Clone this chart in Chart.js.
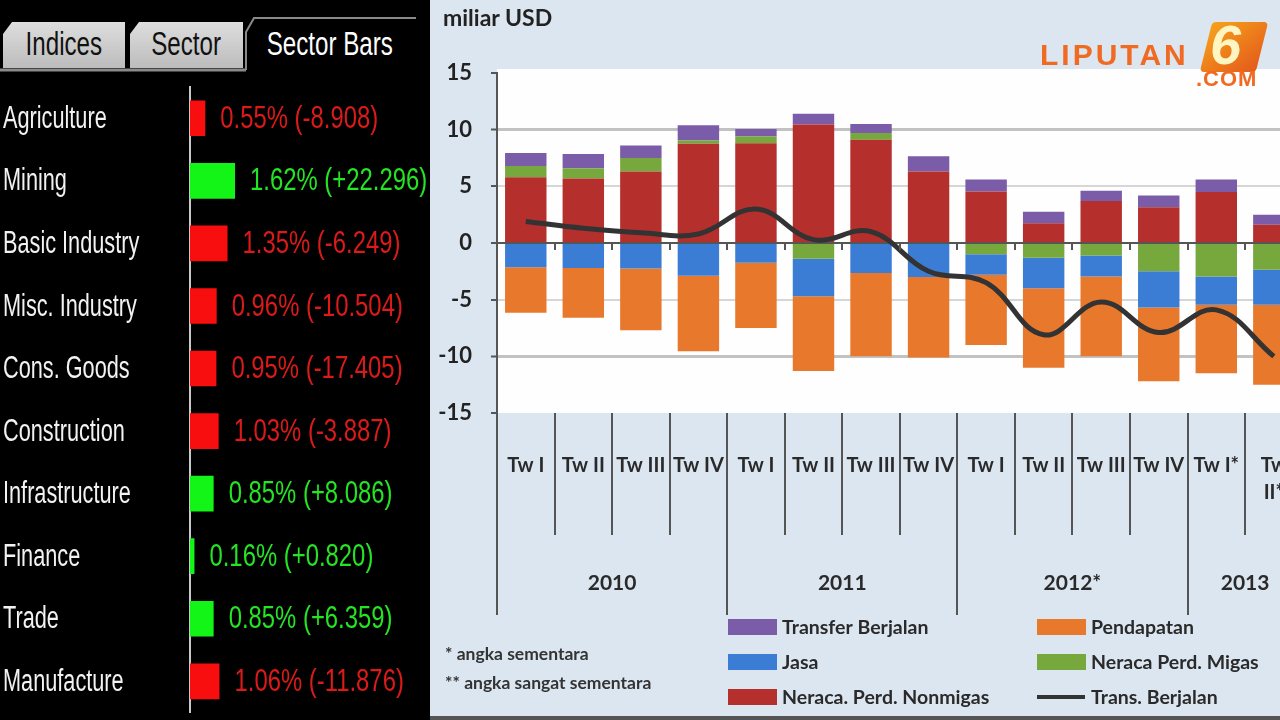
<!DOCTYPE html>
<html>
<head>
<meta charset="utf-8">
<script src="https://cdn.jsdelivr.net/npm/chart.js@4.4.1/dist/chart.umd.min.js"></script>
<style>
  html, body { margin: 0; padding: 0; width: 1280px; height: 720px; overflow: hidden; background: #000; }
  #left { position: absolute; left: 0; top: 0; width: 428px; height: 720px; background: #000; }
  #right { position: absolute; left: 430px; top: 0; width: 850px; height: 720px; background: #dce6f0; overflow: hidden; }
  #rightInner { position: absolute; left: 0; top: 0; width: 888px; height: 720px; }
  .tab, #tabActive { font-family: "Liberation Sans", Arial, sans-serif; font-size: 34px; }
  .tab { position: absolute; top: 22px; height: 46px; line-height: 43px; text-align: center; color: #111;
         background: linear-gradient(#dedede, #bcbcbc);
         clip-path: polygon(9px 0, 100% 0, 100% 100%, 0 100%, 0 12px); }
  #tabActive { position: absolute; left: 241px; top: 22px; width: 154px; height: 46px; line-height: 43px;
               text-align: center; color: #fff; }
  .sq { display: inline-block; transform: scaleX(0.71); white-space: nowrap; }
  #unit { position: absolute; left: 13px; top: 3px; font: bold 23px Lato, sans-serif; color: #222; }
  .note { position: absolute; left: 15px; font: bold 17.5px Lato, sans-serif; color: #333; }
  #logo { position: absolute; left: 610px; top: 18px; width: 240px; height: 75px; }
  #logo .lip { position: absolute; left: 0; top: 22px; font: bold 30px "Liberation Sans", Arial, sans-serif;
               letter-spacing: 3px; color: #f06a22; line-height: 30px; }
  #logo .box { position: absolute; left: 166px; top: 4px; width: 56px; height: 50px;
               background: linear-gradient(135deg, #f7a21b, #e35a1c); transform: skewX(-14deg); border-radius: 4px; }
  #logo .six { position: absolute; left: 170px; top: -1px; font: italic bold 56px "Liberation Sans", Arial, sans-serif;
               color: #fff5c0; line-height: 56px; }
  #logo .com { position: absolute; left: 156px; top: 50px; font: bold 22px "Liberation Sans", Arial, sans-serif;
               color: #f06a22; letter-spacing: 1px; line-height: 22px; }
  #bottomBar { position: absolute; left: 0; top: 716px; width: 850px; height: 4px; background: #555; }
</style>
</head>
<body>
<div id="left">
  <svg width="428" height="90" style="position:absolute;left:0;top:0">
    <line x1="0" y1="70" x2="246" y2="70" stroke="#8a8a8a" stroke-width="3"/>
    <polyline points="246,70 246,32 254,18 416,18" fill="none" stroke="#8a8a8a" stroke-width="2"/>
  </svg>
  <div class="tab" style="left:3px;width:122px"><span class="sq">Indices</span></div>
  <div class="tab" style="left:130px;width:113px"><span class="sq">Sector</span></div>
  <div id="tabActive"><span class="sq">Sector Bars</span></div>
  <canvas id="sectorChart" width="428" height="720" style="position:absolute;left:0;top:0"></canvas>
</div>
<div id="right">
  <div id="rightInner"><canvas id="bopChart" width="888" height="720"></canvas></div>
  <div id="unit">miliar USD</div>
  <div class="note" style="top:643px">* angka sementara</div>
  <div class="note" style="top:672px">** angka sangat sementara</div>
  <div id="logo">
    <div class="lip">LIPUTAN</div>
    <div class="box"></div>
    <div class="six">6</div>
    <div class="com">.COM</div>
  </div>
  <div id="bottomBar"></div>
</div>
<script>
// left panel: sector bars
const sectors = ['Agriculture', 'Mining', 'Basic Industry', 'Misc. Industry', 'Cons. Goods',
  'Construction', 'Infrastructure', 'Finance', 'Trade', 'Manufacture'];
const sectorPct = [0.55, 1.62, 1.35, 0.96, 0.95, 1.03, 0.85, 0.16, 0.85, 1.06];
const sectorChange = [-8.908, 22.296, -6.249, -10.504, -17.405, -3.887, 8.086, 0.820, 6.359, -11.876];

// right panel: current account components (miliar USD)
const quarterLabels = ['Tw I', 'Tw II', 'Tw III', 'Tw IV', 'Tw I', 'Tw II', 'Tw III', 'Tw IV',
  'Tw I', 'Tw II', 'Tw III', 'Tw IV', 'Tw I*', ['Tw', 'II*']];
const yearLabels = ['2010', '2011', '2012*', '2013'];
const quartersPerYear = [4, 4, 4, 2];
const nonmigas = [5.8, 5.7, 6.3, 8.75, 8.8, 10.45, 9.1, 6.3, 4.55, 1.75, 3.7, 3.15, 4.5, 1.6];
const migas = [1.0, 0.9, 1.2, 0.3, 0.6, -1.4, 0.6, 0, -1.0, -1.3, -1.1, -2.5, -2.95, -2.35];
const jasa = [-2.15, -2.2, -2.25, -2.9, -1.75, -3.3, -2.65, -3.0, -1.8, -2.7, -1.85, -3.2, -2.5, -3.1];
const pendapatan = [-4.0, -4.4, -5.45, -6.65, -5.75, -6.6, -7.35, -7.1, -6.2, -7.0, -7.05, -6.5, -6.05, -7.05];
const transfer = [1.15, 1.25, 1.1, 1.35, 0.65, 0.95, 0.8, 1.35, 1.05, 1.0, 0.9, 1.05, 1.1, 0.9];
const transBerjalan = [1.9, 1.3, 0.9, 0.8, 3.0, 0.3, 1.0, -2.5, -3.5, -8.1, -5.2, -7.9, -5.9, -10.0];

const SANS = '"Liberation Sans", Arial, sans-serif';
const BAR_UP = '#12f516', BAR_DOWN = '#f80e0e';
const TXT_UP = '#24e424', TXT_DOWN = '#dc1a1a';

// no condensed face is installed, so squeeze the text horizontally
function squeezed(ctx, text, x, y, sx) {
  ctx.save();
  ctx.translate(x, y);
  ctx.scale(sx, 1);
  ctx.fillText(text, 0, 0);
  ctx.restore();
}

const sectorText = {
  id: 'sectorText',
  afterDatasetsDraw(chart) {
    const { ctx, scales: { y } } = chart;
    ctx.save();
    ctx.font = '31px ' + SANS;
    ctx.textBaseline = 'middle';
    ctx.fillStyle = '#f2f2f2';
    sectors.forEach((s, i) => squeezed(ctx, s, 3, y.getPixelForValue(i) + 1, 0.7));
    chart.getDatasetMeta(0).data.forEach((bar, i) => {
      const c = sectorChange[i];
      const txt = sectorPct[i].toFixed(2) + '% (' + (c > 0 ? '+' : '') + c.toFixed(3) + ')';
      ctx.fillStyle = c > 0 ? TXT_UP : TXT_DOWN;
      squeezed(ctx, txt, bar.x + 15, bar.y + 1, 0.77);
    });
    ctx.restore();
  }
};

new Chart(document.getElementById('sectorChart'), {
  type: 'bar',
  data: {
    labels: sectors,
    datasets: [{
      data: sectorPct,
      backgroundColor: sectorChange.map(c => c > 0 ? BAR_UP : BAR_DOWN),
      barPercentage: 0.57, categoryPercentage: 1,
    }],
  },
  options: {
    indexAxis: 'y', responsive: false, animation: false,
    layout: { autoPadding: false, padding: { left: 3, top: 87, bottom: 7.4, right: 15.6 } },
    plugins: { legend: { display: false }, tooltip: { enabled: false } },
    scales: {
      x: { display: false, min: 0, max: 8 },
      y: {
        afterFit: s => { s.width = 187; },
        grid: { display: false },
        border: { color: '#c8c8c8', width: 2 },
        ticks: { display: false },
      },
    },
  },
  plugins: [sectorText],
});

// right chart extras: plot background, separators, year labels, legend
const bopDecor = {
  id: 'bopDecor',
  beforeDraw(chart) {
    const { ctx, chartArea: a } = chart;
    ctx.save();
    ctx.fillStyle = '#fefefe';
    ctx.fillRect(a.left, a.top - 4, a.right - a.left, a.bottom - a.top + 4);
    ctx.restore();
  },
  afterDraw(chart) {
    const { ctx, chartArea: a, scales: { x, y } } = chart;
    const n = quarterLabels.length;
    const slot = x.getPixelForValue(1) - x.getPixelForValue(0);
    const y0 = y.getPixelForValue(0);
    const yearEdges = [0];
    quartersPerYear.forEach(q => yearEdges.push(yearEdges[yearEdges.length - 1] + q));
    ctx.save();
    ctx.strokeStyle = '#555';
    ctx.lineWidth = 2;
    for (let i = 0; i <= n; i++) {
      const bx = Math.round(x.getPixelForValue(0) - slot / 2 + i * slot);
      const long = yearEdges.includes(i);
      ctx.beginPath();
      ctx.moveTo(bx, a.bottom);
      ctx.lineTo(bx, long ? 615 : 535);
      ctx.stroke();
      if (i > 0) {
        ctx.beginPath();
        ctx.moveTo(bx, y0);
        ctx.lineTo(bx, y0 + 7);
        ctx.stroke();
      }
    }
    ctx.fillStyle = '#2a2a2a';
    ctx.font = 'bold 21px Lato, sans-serif';
    ctx.textAlign = 'center';
    ctx.textBaseline = 'middle';
    yearLabels.forEach((yl, k) => {
      const s = yearEdges[k], e = yearEdges[k + 1] - 1;
      ctx.fillText(yl, (x.getPixelForValue(s) + x.getPixelForValue(e)) / 2, 583);
    });
    // legend in two columns
    const ds = chart.data.datasets;
    const cols = [298, 607];
    const rows = [627, 662, 697];
    const layout = [[5, 4], [3, 2], [1, 0]];
    ctx.textAlign = 'left';
    ctx.font = 'bold 19.5px Lato, sans-serif';
    layout.forEach((pair, r) => pair.forEach((di, c) => {
      const d = ds[di];
      const sx = cols[c], sy = rows[r];
      if (d.type === 'line') {
        ctx.strokeStyle = d.borderColor;
        ctx.lineWidth = 4;
        ctx.beginPath();
        ctx.moveTo(sx, sy);
        ctx.lineTo(sx + 48, sy);
        ctx.stroke();
      } else {
        ctx.fillStyle = d.backgroundColor;
        ctx.fillRect(sx, sy - 8, 49, 16);
      }
      ctx.fillStyle = '#2a2a2a';
      ctx.fillText(d.label, sx + 54, sy + 1);
    }));
    ctx.restore();
  }
};

const gridColor = ctx => {
  const v = ctx.tick && ctx.tick.value;
  if (v === 0) return '#555';
  if (Math.abs(v) === 10) return '#c2c2c2';
  if (Math.abs(v) === 5) return '#d6d6d6';
  return 'rgba(0,0,0,0)';
};
const gridWidth = ctx => {
  const v = ctx.tick && ctx.tick.value;
  return Math.abs(v) === 10 ? 3 : 2;
};

new Chart(document.getElementById('bopChart'), {
  data: {
    labels: quarterLabels,
    datasets: [
      { type: 'line', label: 'Trans. Berjalan', data: transBerjalan, borderColor: '#333333',
        borderWidth: 5, tension: 0.4, pointRadius: 0, order: 0, stack: 'net' },
      { type: 'bar', label: 'Neraca. Perd. Nonmigas', data: nonmigas, backgroundColor: '#b5302d', order: 1, stack: 'bop' },
      { type: 'bar', label: 'Neraca Perd. Migas', data: migas, backgroundColor: '#77a83d', order: 1, stack: 'bop' },
      { type: 'bar', label: 'Jasa', data: jasa, backgroundColor: '#3b7dd4', order: 1, stack: 'bop' },
      { type: 'bar', label: 'Pendapatan', data: pendapatan, backgroundColor: '#e8782c', order: 1, stack: 'bop' },
      { type: 'bar', label: 'Transfer Berjalan', data: transfer, backgroundColor: '#7b5ca8', order: 1, stack: 'bop' },
    ],
  },
  options: {
    responsive: false, animation: false,
    datasets: { bar: { barPercentage: 0.72, categoryPercentage: 1 } },
    layout: { autoPadding: false, padding: { left: 0, top: 73, right: 0, bottom: 0 } },
    plugins: { legend: { display: false }, tooltip: { enabled: false } },
    scales: {
      x: {
        stacked: true,
        afterFit: s => { s.height = 307; },
        grid: { display: false },
        border: { display: false },
        ticks: { autoSkip: false, maxRotation: 0, padding: 31, color: '#2a2a2a',
                 font: { size: 20, weight: 'bold', family: 'Lato', lineHeight: 1.35 } },
      },
      y: {
        stacked: true, min: -15, max: 15,
        afterFit: s => { s.width = 67; },
        grid: { color: gridColor, lineWidth: gridWidth, tickColor: '#555', tickLength: 6, tickWidth: 2 },
        border: { color: '#555', width: 2 },
        ticks: { stepSize: 5, padding: 19, color: '#222', font: { size: 22, weight: 'bold', family: 'Lato' } },
      },
    },
  },
  plugins: [bopDecor],
});
</script>
</body>
</html>
